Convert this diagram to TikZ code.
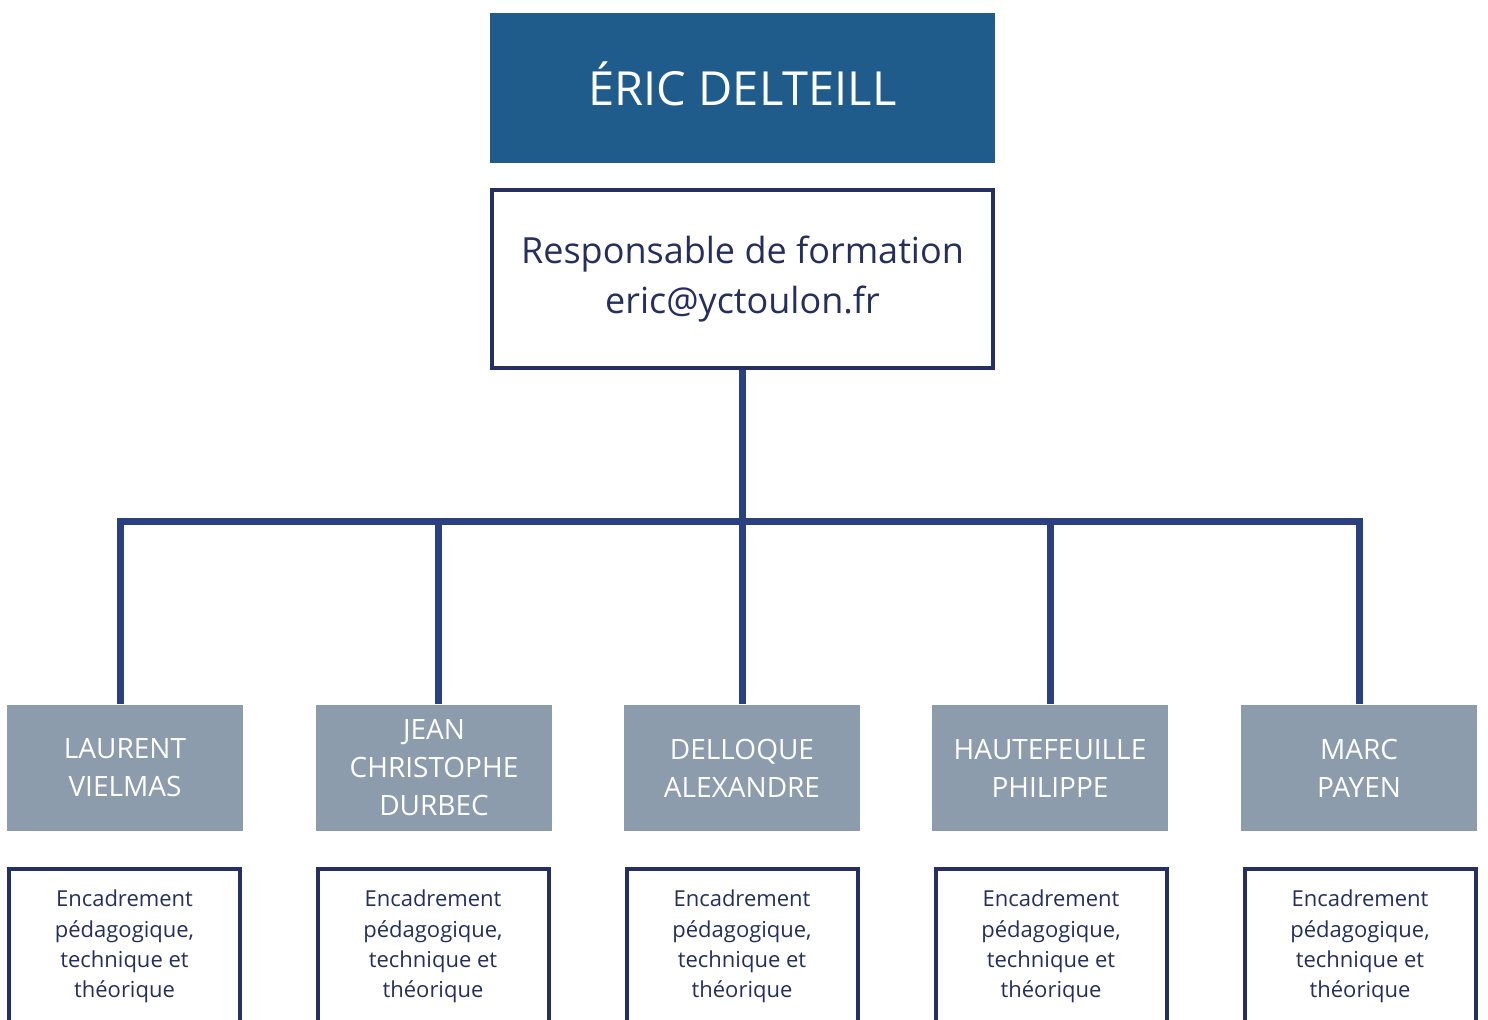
\documentclass[tikz,border=0pt]{standalone}
\usepackage{fontspec}
\setmainfont{Open Sans}
\definecolor{headblue}{RGB}{31,92,139}
\definecolor{namegrey}{RGB}{140,156,173}
\definecolor{linkblue}{RGB}{42,64,128}
\definecolor{framenavy}{RGB}{37,47,98}
\definecolor{textnavy}{RGB}{37,47,94}
\tikzset{every picture/.style={line width=0.75pt},
  headbox/.style={fill=headblue,text=white,inner sep=0pt,minimum width=252.5pt,minimum height=75pt,text height=17pt,text depth=0pt,font=\fontsize{23.5}{28}\selectfont},
  rolebox/.style={draw=framenavy,line width=2pt,text=textnavy,inner sep=0pt,minimum width=250.5pt,minimum height=89pt,align=center,font=\fontsize{18}{24.75}\selectfont},
  namebox/.style={fill=namegrey,text=white,inner sep=0pt,minimum width=118pt,minimum height=63pt,align=center,font=\fontsize{14}{19}\selectfont},
  taskbox/.style={draw=framenavy,line width=2pt,text=textnavy,anchor=north,inner xsep=0pt,inner ysep=10.5pt,minimum width=115.5pt,text depth=40pt,align=center,font=\fontsize{11}{15.2}\selectfont},
  link/.style={draw=linkblue,line width=3.5pt,line join=miter}}

\begin{document}
\begin{tikzpicture}[x=0.5pt,y=0.5pt,yscale=-1,xscale=1]
\path[use as bounding box,clip] (0,0) rectangle (1488,1019);

% Head
\node (head) [headbox] at (742.5,88) {ÉRIC DELTEILL};
\node (role) [rolebox] at (742.5,279) {Responsable de formation\\eric@yctoulon.fr};

% Names
\node (laurent) [namebox] at (125,768) {LAURENT\\VIELMAS};
\node (jean) [namebox] at (434,768) {JEAN\\CHRISTOPHE\\DURBEC};
\node (delloque) [namebox] at (742,768) {DELLOQUE\\ALEXANDRE};
\node (hautefeuille) [namebox] at (1050,768) {HAUTEFEUILLE\\PHILIPPE};
\node (marc) [namebox] at (1359,768) {MARC\\PAYEN};

% Tasks
\node (task1) [taskbox] at (124.5,867) {Encadrement\\pédagogique,\\technique et\\théorique};
\node (task2) [taskbox] at (433,867) {Encadrement\\pédagogique,\\technique et\\théorique};
\node (task3) [taskbox] at (742,867) {Encadrement\\pédagogique,\\technique et\\théorique};
\node (task4) [taskbox] at (1051,867) {Encadrement\\pédagogique,\\technique et\\théorique};
\node (task5) [taskbox] at (1360,867) {Encadrement\\pédagogique,\\technique et\\théorique};

% Bus
\coordinate (b1) at (120.5,521.5);
\coordinate (b2) at (438,521.5);
\coordinate (b3) at (742.5,521.5);
\coordinate (b4) at (1050,521.5);
\coordinate (b5) at (1359,521.5);

\draw [link] (b1 |- laurent.north) -- (b1) -- (b5) -- (b5 |- marc.north);
\draw [link] (role.south) -- (b3);
\draw [link] (b2) -- (b2 |- jean.north);
\draw [link] (b3) -- (b3 |- delloque.north);
\draw [link] (b4) -- (b4 |- hautefeuille.north);

\end{tikzpicture}
\end{document}
